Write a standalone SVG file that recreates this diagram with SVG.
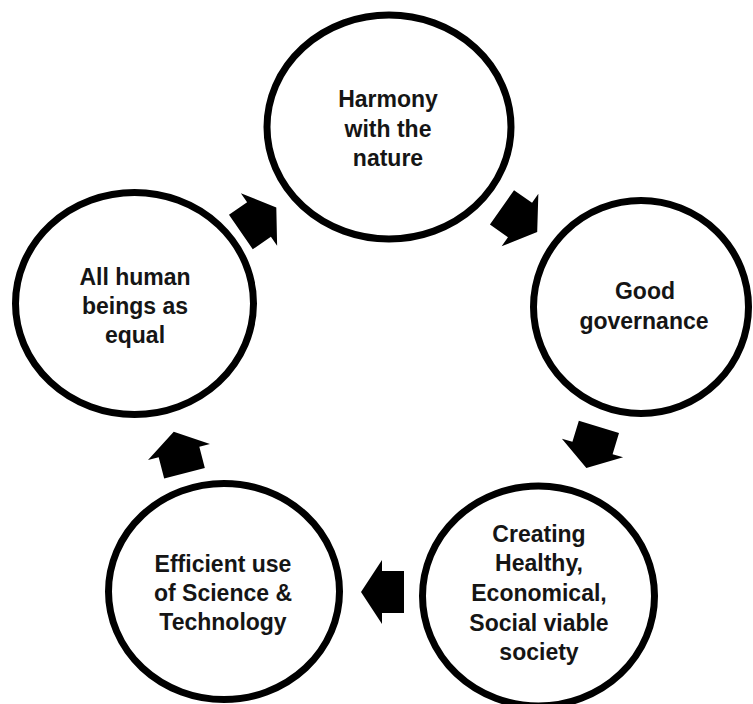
<svg xmlns="http://www.w3.org/2000/svg" width="753" height="704" viewBox="0 0 753 704">
<defs>
<style>
.node ellipse{fill:#fff;stroke:#000;stroke-width:7}
.node text{font-family:"Liberation Sans",Arial,sans-serif;font-weight:bold;font-size:23px;fill:#151515;text-anchor:middle}
.arrow{fill:#000}
</style>
<polygon id="blk" points="-22,-21 0,-21 0,-32 21,0 0,32 0,21 -22,21"/>
</defs>
<rect width="753" height="704" fill="#fff"/>
<g id="harmony" class="node">
<ellipse cx="389" cy="127" rx="122" ry="112"/>
<text x="388" y="107">Harmony</text>
<text x="388" y="137">with the</text>
<text x="388" y="166">nature</text>
</g>
<g id="governance" class="node">
<ellipse cx="641" cy="307" rx="107.5" ry="106.5"/>
<text x="645" y="299">Good</text>
<text x="644" y="329">governance</text>
</g>
<g id="society" class="node">
<ellipse cx="538.5" cy="596" rx="116" ry="110"/>
<text x="539" y="542">Creating</text>
<text x="539" y="571">Healthy,</text>
<text x="539" y="601">Economical,</text>
<text x="539" y="631">Social viable</text>
<text x="539" y="660">society</text>
</g>
<g id="science" class="node">
<ellipse cx="224" cy="591.5" rx="115.5" ry="108"/>
<text x="223" y="572">Efficient use</text>
<text x="223" y="601">of Science &amp;</text>
<text x="223" y="630">Technology</text>
</g>
<g id="equal" class="node">
<ellipse cx="134.5" cy="303.5" rx="119" ry="111"/>
<text x="135" y="285">All human</text>
<text x="135" y="314">beings as</text>
<text x="135" y="343">equal</text>
</g>
<g id="connectors" class="arrow">
<use href="#blk" transform="translate(259,219.5) rotate(-34.5)"/>
<use href="#blk" transform="translate(520,220) rotate(35)"/>
<use href="#blk" transform="translate(592.5,448) rotate(107)"/>
<use href="#blk" transform="translate(382,592) rotate(180)"/>
<use href="#blk" transform="translate(179,452) rotate(-104.5)"/>
</g>
</svg>
